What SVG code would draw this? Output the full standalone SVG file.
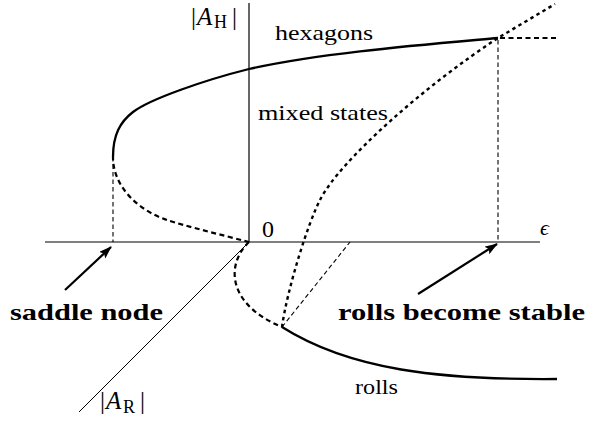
<svg xmlns="http://www.w3.org/2000/svg" width="589" height="425" viewBox="0 0 589 425">
<style>
.ax{stroke:#000;stroke-width:1.2;fill:none}
.solid{stroke:#000;stroke-width:2.3;fill:none}
.dash{stroke:#000;stroke-width:2.2;fill:none;stroke-dasharray:5 3.5}
.dot{stroke:#000;stroke-width:2.4;fill:none;stroke-dasharray:3.5 3.5}
.thin{stroke:#000;stroke-width:1.1;fill:none;stroke-dasharray:4.5 3}
.arr{stroke:#000;stroke-width:2.2;fill:none;marker-end:url(#ah)}
.t{font-family:'Liberation Serif','DejaVu Serif',serif;fill:#000}
</style>
<defs>
<marker id="ah" markerUnits="userSpaceOnUse" markerWidth="14" markerHeight="10" refX="12" refY="4.5" orient="auto">
<path d="M0,0 L13,4.5 L0,9 L2.5,4.5 z" fill="#000"/>
</marker>
</defs>
<g id="axes">
<line class="ax" x1="249" y1="3" x2="249" y2="242"/>
<line class="ax" x1="45" y1="242" x2="540" y2="242"/>
<line x1="249" y1="242" x2="79" y2="412" stroke="#000" stroke-width="1"/>
</g>
<g id="guides">
<line class="thin" x1="113" y1="157" x2="113" y2="242"/>
<line class="thin" x1="498" y1="40" x2="498" y2="242"/>
<line class="thin" x1="282" y1="327" x2="350" y2="242"/>
</g>
<g id="hexagons">
<path class="solid" d="M113,157 C113,135 120,122 133,112 C150,99 205,80 249,69 C320,53 420,45 498,38"/>
<path class="dash" d="M249,242 C222,235 185,226 167,220 C140,211 113,188 113,157"/>
<path class="dash" d="M500,38 L556,38"/>
</g>
<g id="mixed">
<path class="dot" d="M282,327 C287,290 308,223 320,200 C340,160 428,83.5 498,38 L555,4"/>
</g>
<g id="rolls">
<path class="dash" d="M249,242 C225,265 228,305 282,327"/>
<path class="solid" d="M282,327 C350,370 440,380 557,379"/>
</g>
<g id="connectors">
<line class="arr" x1="65" y1="290" x2="111" y2="247"/>
<line class="arr" x1="418" y1="294" x2="497" y2="244"/>
</g>
<g id="labels">
<text class="t" x="191" y="25" font-size="25">|<tspan x="197" font-style="italic">A</tspan><tspan x="214" y="28" font-size="18">H</tspan><tspan x="232" y="25">|</tspan></text>
<text class="t" x="262" y="237" font-size="24">0</text>
<text class="t" x="540" y="235" font-size="22" font-style="italic">ϵ</text>
<text class="t" x="100" y="409" font-size="25">|<tspan x="106" font-style="italic">A</tspan><tspan x="123" y="413" font-size="18">R</tspan><tspan x="140" y="409">|</tspan></text>
<text class="t" x="275" y="40" font-size="22" textLength="98" lengthAdjust="spacingAndGlyphs">hexagons</text>
<text class="t" x="258" y="120" font-size="22" textLength="130" lengthAdjust="spacingAndGlyphs">mixed states</text>
<text class="t" x="355" y="394" font-size="22" textLength="43" lengthAdjust="spacingAndGlyphs">rolls</text>
<text class="t" x="10" y="320" font-size="24" font-weight="bold" textLength="153" lengthAdjust="spacingAndGlyphs">saddle node</text>
<text class="t" x="338" y="320" font-size="24" font-weight="bold" textLength="247" lengthAdjust="spacingAndGlyphs">rolls become stable</text>
</g>
</svg>
